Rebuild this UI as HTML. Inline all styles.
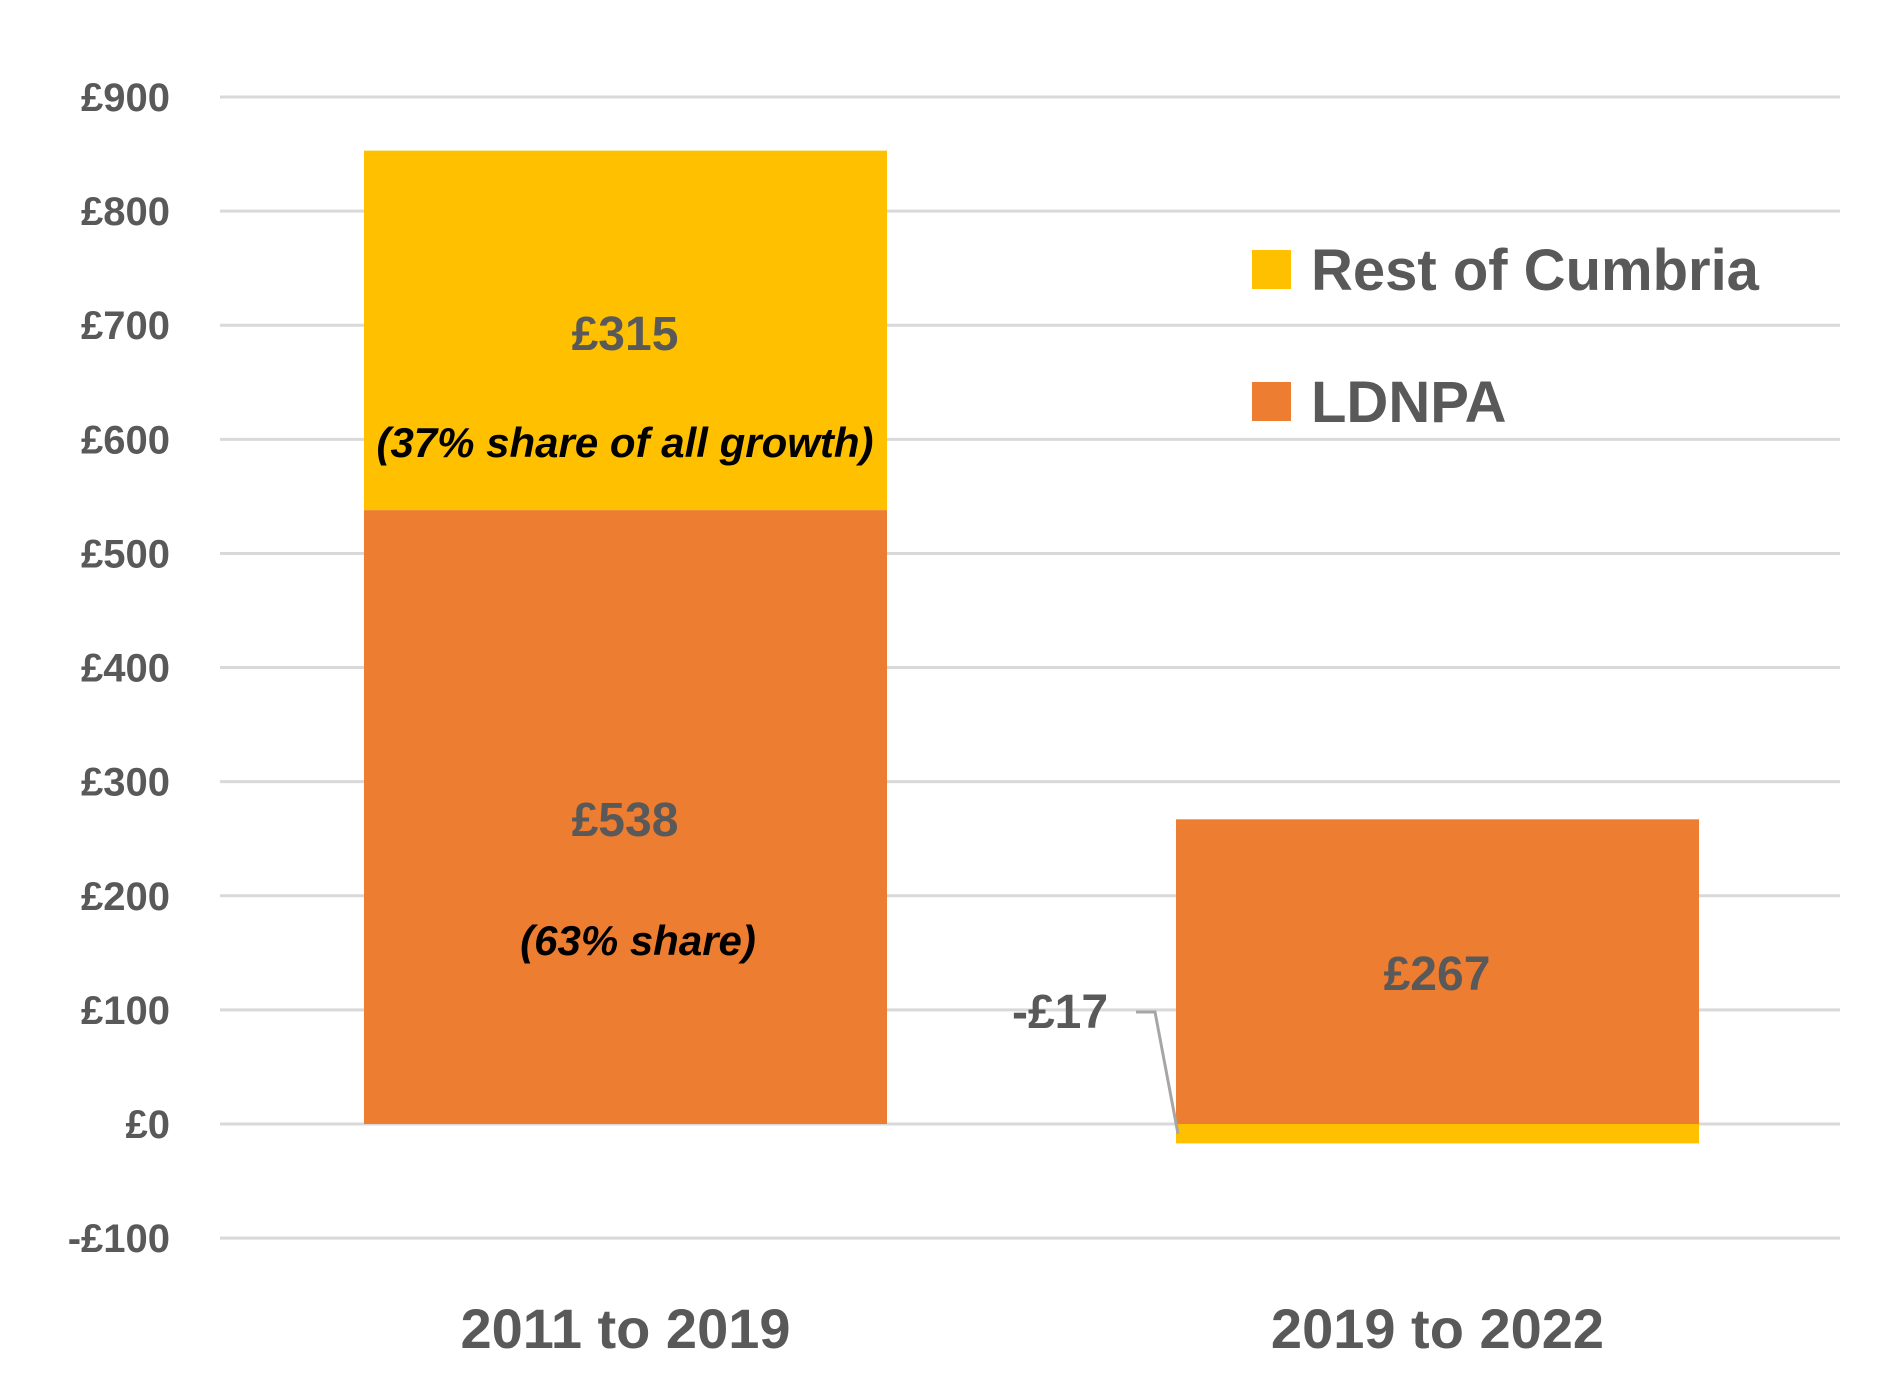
<!DOCTYPE html>
<html><head><meta charset="utf-8"><style>
body{margin:0;background:#fff}
svg text{font-family:"Liberation Sans",sans-serif;font-weight:bold}
</style></head><body>
<svg id="chart" width="1890" height="1395" viewBox="0 0 1890 1395" xmlns="http://www.w3.org/2000/svg">
<g id="grid"></g>
<g id="ylabels"></g>
<g id="bars"></g>
<g id="labels"></g>
<g>
<rect x="1252" y="250" width="39" height="39" fill="#FFC000"/>
<text x="1311" y="290" font-size="58" fill="#595959">Rest of Cumbria</text>
<rect x="1252" y="382" width="39" height="39" fill="#ED7D31"/>
<text x="1311" y="422" font-size="58" fill="#595959">LDNPA</text>
</g>
</svg>
<script>
const categories=["2011 to 2019","2019 to 2022"];
const ldnpa=[538,267];
const restOfCumbria=[315,-17];
const ticks=[-100,0,100,200,300,400,500,600,700,800,900];
const tickLabels=["-£100","£0","£100","£200","£300","£400","£500","£600","£700","£800","£900"];
const NS="http://www.w3.org/2000/svg";
const y=v=>1124-v*1.1411;
const barX=[364,1176], barW=523;
function mk(tag,attrs,parent,txt){const e=document.createElementNS(NS,tag);for(const k in attrs)e.setAttribute(k,attrs[k]);if(txt!==undefined)e.textContent=txt;document.getElementById(parent).appendChild(e);return e;}
ticks.forEach((t,i)=>{
 const l=mk('line',{x1:220,x2:1840,y1:y(t),y2:y(t),stroke:'#d9d9d9','stroke-width':3},'grid');
 
 
 const tx=mk('text',{x:170,y:y(t)+14,'text-anchor':'end','font-size':40,fill:'#595959'},'ylabels',tickLabels[i]);
 
 
});
categories.forEach((c,i)=>{
 const cx=barX[i]+barW/2;
 const a=mk('rect',{x:barX[i],y:Math.min(y(0),y(ldnpa[i])),width:barW,height:Math.abs(y(ldnpa[i])-y(0)),fill:'#ED7D31'},'bars');
 
 
 let b0=restOfCumbria[i]>=0?ldnpa[i]:0, b1=b0+restOfCumbria[i];
 const b=mk('rect',{x:barX[i],y:Math.min(y(b0),y(b1)),width:barW,height:Math.abs(y(b1)-y(b0)),fill:'#FFC000'},'bars');
 
 
 const cl=mk('text',{x:cx,y:1348,'text-anchor':'middle','font-size':56,fill:'#595959'},'labels',c);
 
 
});
function lab(x,yy,t,size,fill,name,italic){const e=mk('text',{x:x,y:yy,'text-anchor':'middle','font-size':size,fill:fill},'labels',t);if(italic)e.setAttribute('font-style','italic');}
lab(625,350,'£'+restOfCumbria[0],48,'#595959','value-rest-2011-2019');
lab(625,457,'(37% share of all growth)',42,'#000','share-note-rest',true);
lab(625,836,'£'+ldnpa[0],48,'#595959','value-ldnpa-2011-2019');
lab(638,955,'(63% share)',42,'#000','share-note-ldnpa',true);
lab(1437,990,'£'+ldnpa[1],48,'#595959','value-ldnpa-2019-2022');
lab(1060,1028,'-£'+Math.abs(restOfCumbria[1]),48,'#595959','value-rest-2019-2022');
const ll=mk('polyline',{points:'1136,1012 1155,1012 1178,'+(y(restOfCumbria[1]/2)),fill:'none',stroke:'#a6a6a6','stroke-width':3},'labels');


</script>
</body></html>
